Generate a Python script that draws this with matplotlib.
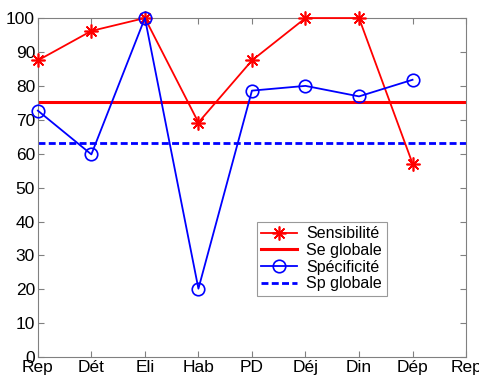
import matplotlib
matplotlib.use("Agg")
import matplotlib.pyplot as plt

plt.rcParams['font.family'] = ['Liberation Sans', 'DejaVu Sans']

tick_labels = ['Rep', 'Dét', 'Eli', 'Hab', 'PD', 'Déj', 'Din', 'Dép', 'Rep']
sensibilite = [87.5, 96.2, 100, 69.2, 87.5, 100, 100, 57.1]
specificite = [72.7, 59.8, 100, 20.2, 78.6, 80.0, 76.9, 81.8]
se_globale = 75.3
sp_globale = 63.3

fig = plt.figure(figsize=(4.79, 3.76), dpi=100)
ax = fig.add_axes([0.079, 0.05, 0.894, 0.902])

x = list(range(1, len(sensibilite) + 1))
ax.plot(x, sensibilite, color='#ff0000', marker=(8, 2, 0), markersize=10, lw=1.3,
        markeredgewidth=1.2, label='Sensibilité', clip_on=False, zorder=3)
ax.axhline(se_globale, color='#ff0000', lw=2.2, label='Se globale')
ax.plot(x, specificite, color='#0000ff', marker='o', markersize=9, lw=1.3,
        markerfacecolor='none', markeredgewidth=1.2, label='Spécificité',
        clip_on=False, zorder=3)
ax.axhline(sp_globale, color='#0000ff', lw=2.0, ls=(0, (2.5, 1.2)), label='Sp globale')

ax.set_xlim(1, 9)
ax.set_ylim(0, 100)
ax.set_xticks(range(1, 10))
ax.set_xticklabels(tick_labels)
ax.set_yticks(range(0, 101, 10))
ax.tick_params(direction='in', length=4, color='#808080', labelsize=12.5,
               top=True, right=True, pad=2)
for s in ax.spines.values():
    s.set_color('#808080')

leg = ax.legend(loc='upper left', bbox_to_anchor=(0.511, 0.40), fontsize=11.5,
                frameon=True, fancybox=False, edgecolor='#808080',
                handlelength=2.2, borderpad=0.3, labelspacing=0.1,
                handletextpad=0.6, borderaxespad=0)
leg.get_frame().set_linewidth(0.8)

fig.savefig('out.png', dpi=100)
